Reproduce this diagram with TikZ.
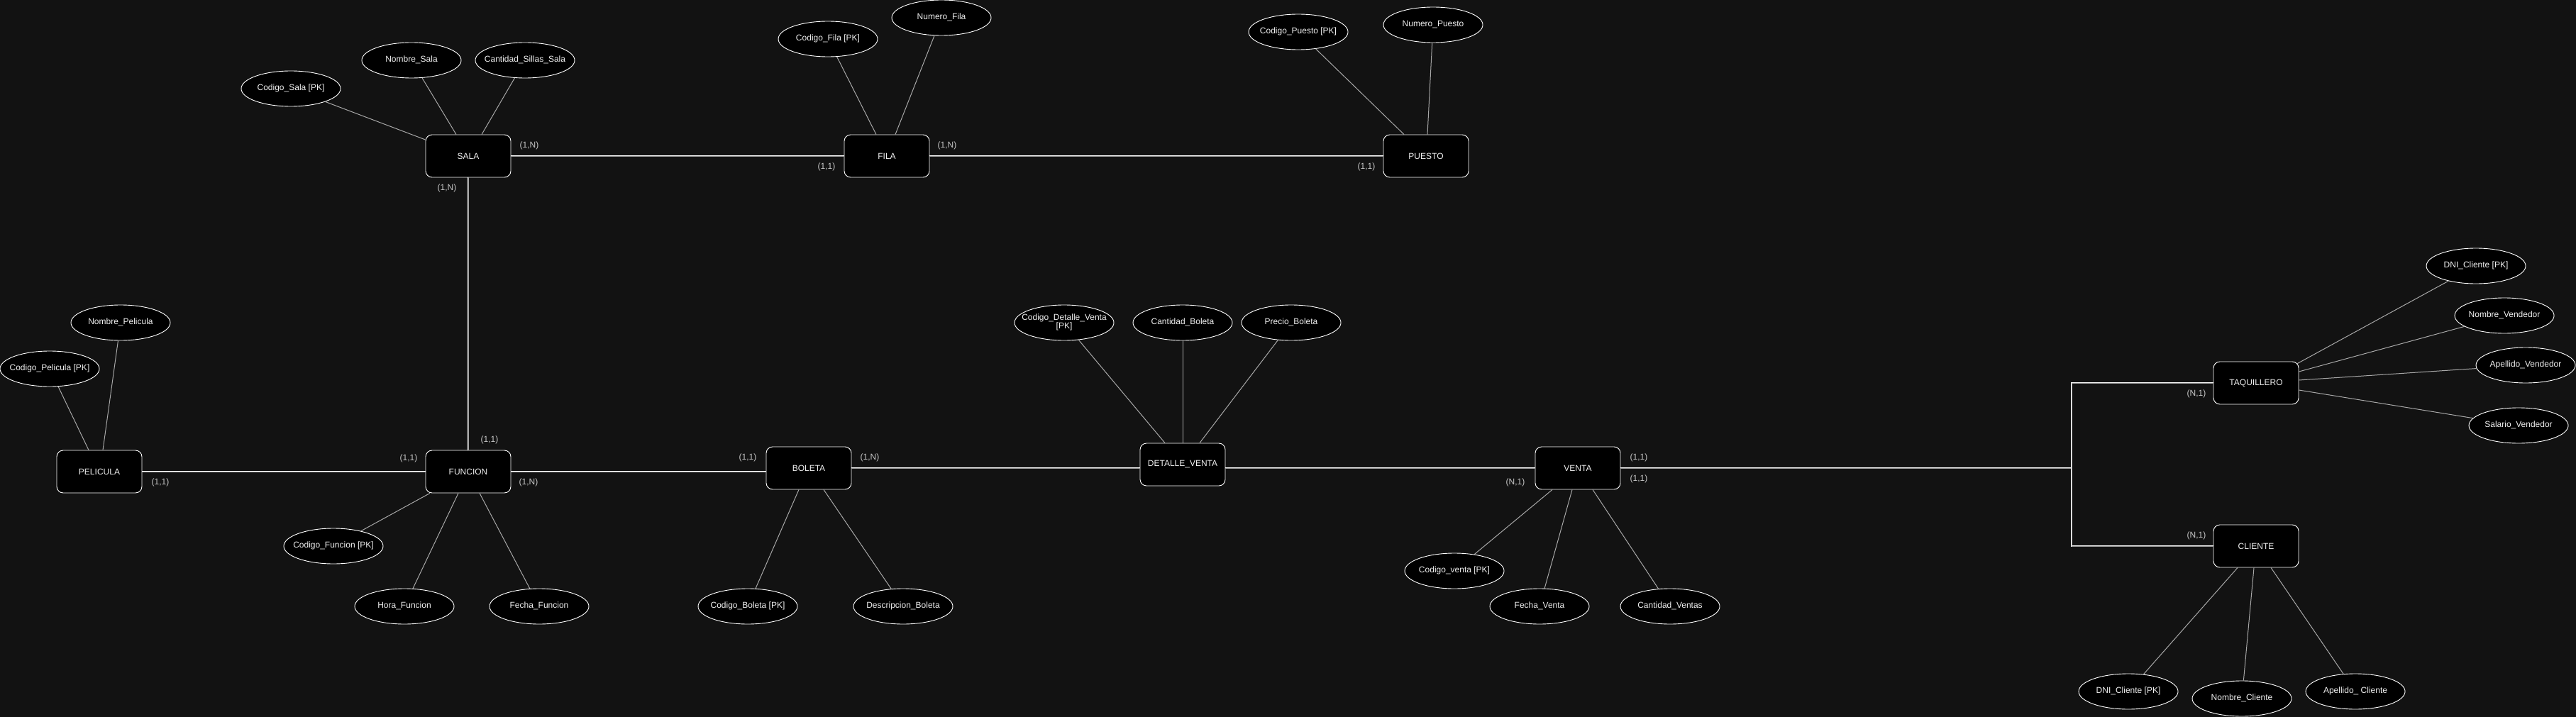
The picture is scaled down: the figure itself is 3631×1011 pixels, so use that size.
\documentclass[tikz,border=0pt]{standalone}
\usepackage{fontspec}
\setmainfont{Liberation Sans}
\usetikzlibrary{calc,shapes.geometric}
\definecolor{bgc}{HTML}{121212}
\definecolor{txt}{HTML}{F0F0F0}
\definecolor{lbl}{HTML}{C8C8C8}
\definecolor{attrline}{HTML}{A8A8A8}
\newcommand{\fixw}[1]{\makebox[0pt][c]{\begin{tabular}{@{}c@{}}#1\end{tabular}}}
\tikzset{
  entity/.style={draw=white, fill=black, rounded corners=9pt, minimum width=120pt, minimum height=60pt, inner sep=0pt, text=txt, font=\fontsize{12}{14}\selectfont, line width=0.9pt},
  attr/.style={draw=white, fill=black, ellipse, minimum width=140pt, minimum height=50pt, inner sep=0pt, text=txt, font=\fontsize{12}{14}\selectfont, line width=0.9pt},
  card/.style={text=lbl, font=\fontsize{12}{14}\selectfont, inner sep=0pt},
  rel/.style={draw=white, double=gray!75!white, double distance=0.5pt, line width=0.9pt},
  aline/.style={draw=attrline, line width=1pt}
}
\begin{document}
\begin{tikzpicture}[x=1pt,y=-1pt]
\fill[bgc] (0,0) rectangle (3631,1011);
\useasboundingbox (0,0) rectangle (3631,1011);

% entities
\node[entity] (sala) at (660,220) {SALA};
\node[entity] (fila) at (1250,220) {FILA};
\node[entity] (puesto) at (2010,220) {PUESTO};
\node[entity] (pelicula) at (140,665) {PELICULA};
\node[entity] (funcion) at (660,665) {FUNCION};
\node[entity] (boleta) at (1140,660) {BOLETA};
\node[entity] (detalle) at (1667,655) {DETALLE\_VENTA};
\node[entity] (venta) at (2224,660) {VENTA};
\node[entity] (taq) at (3180,540) {TAQUILLERO};
\node[entity] (cli) at (3180,770) {CLIENTE};

% attributes
\node[attr] (csala) at (410,125) {\fixw{Codigo\_Sala [PK]}};
\node[attr] (nsala) at (580,85) {\fixw{Nombre\_Sala}};
\node[attr] (cssala) at (740,85) {\fixw{Cantidad\_Sillas\_Sala}};
\node[attr] (cfila) at (1167,55) {\fixw{Codigo\_Fila [PK]}};
\node[attr] (nfila) at (1327,25) {\fixw{Numero\_Fila}};
\node[attr] (cpuesto) at (1830,45) {\fixw{Codigo\_Puesto [PK]}};
\node[attr] (npuesto) at (2020,35) {\fixw{Numero\_Puesto}};
\node[attr] (npel) at (170,455) {\fixw{Nombre\_Pelicula}};
\node[attr] (cpel) at (70,520) {\fixw{Codigo\_Pelicula [PK]}};
\node[attr] (cfun) at (470,770) {\fixw{Codigo\_Funcion [PK]}};
\node[attr] (hfun) at (570,855) {\fixw{Hora\_Funcion}};
\node[attr] (ffun) at (760,855) {\fixw{Fecha\_Funcion}};
\node[attr] (cbol) at (1054,855) {\fixw{Codigo\_Boleta [PK]}};
\node[attr] (dbol) at (1273,855) {\fixw{Descripcion\_Boleta}};
\node[attr] (cdv) at (1500,455) {\fixw{Codigo\_Detalle\_Venta\\[-2pt][PK]}};
\node[attr] (cantb) at (1667,455) {\fixw{Cantidad\_Boleta}};
\node[attr] (pbol) at (1820,455) {\fixw{Precio\_Boleta}};
\node[attr] (cven) at (2050,805) {\fixw{Codigo\_venta [PK]}};
\node[attr] (fven) at (2170,855) {\fixw{Fecha\_Venta}};
\node[attr] (cantv) at (2354,855) {\fixw{Cantidad\_Ventas}};
\node[attr] (dnit) at (3490,375) {\fixw{DNI\_Cliente [PK]}};
\node[attr] (nvend) at (3530,445) {\fixw{Nombre\_Vendedor}};
\node[attr] (avend) at (3560,515) {\fixw{Apellido\_Vendedor}};
\node[attr] (svend) at (3550,600) {\fixw{Salario\_Vendedor}};
\node[attr] (dnic) at (3000,975) {\fixw{DNI\_Cliente [PK]}};
\node[attr] (ncli) at (3160,985) {\fixw{Nombre\_Cliente}};
\node[attr] (acli) at (3320,975) {\fixw{Apellido\_ Cliente}};

% attribute lines
\draw[aline] (csala) -- ($(sala.west)+(0,-23)$);
\draw[aline] (nsala) -- ($(sala.north)+(-17,0)$);
\draw[aline] (cssala) -- ($(sala.north)+(19,0)$);
\draw[aline] (cfila) -- ($(fila.north)+(-15,0)$);
\draw[aline] (nfila) -- ($(fila.north)+(12,0)$);
\draw[aline] (cpuesto) -- ($(puesto.north)+(-31,0)$);
\draw[aline] (npuesto) -- ($(puesto.north)+(2,0)$);
\draw[aline] (cpel) -- ($(pelicula.north)+(-15,0)$);
\draw[aline] (npel) -- ($(pelicula.north)+(5,0)$);
\draw[aline] (cfun) -- ($(funcion.south)+(-54,0)$);
\draw[aline] (hfun) -- ($(funcion.south)+(-14,0)$);
\draw[aline] (ffun) -- ($(funcion.south)+(16,0)$);
\draw[aline] (cbol) -- ($(boleta.south)+(-14,0)$);
\draw[aline] (dbol) -- ($(boleta.south)+(21,0)$);
\draw[aline] (cdv) -- ($(detalle.north)+(-25,0)$);
\draw[aline] (cantb) -- (detalle.north);
\draw[aline] (pbol) -- ($(detalle.north)+(24,0)$);
\draw[aline] (cven) -- ($(venta.south)+(-36,0)$);
\draw[aline] (fven) -- ($(venta.south)+(-8,0)$);
\draw[aline] (cantv) -- ($(venta.south)+(21,0)$);
\draw[aline] (dnit) -- ($(taq.east)+(-3,-27)$);
\draw[aline] (nvend) -- ($(taq.east)+(0,-16)$);
\draw[aline] (avend) -- ($(taq.east)+(0,-4)$);
\draw[aline] (svend) -- ($(taq.east)+(0,10)$);
\draw[aline] (dnic) -- ($(cli.south)+(-26,0)$);
\draw[aline] (ncli) -- ($(cli.south)+(-3,0)$);
\draw[aline] (acli) -- ($(cli.south)+(21,0)$);

% relationship lines
\coordinate (j) at (2920,660);
\draw[rel] (sala) -- (fila);
\draw[rel] (fila) -- (puesto);
\draw[rel] (sala) -- (funcion);
\draw[rel] (pelicula) -- (funcion);
\draw[rel] (funcion.east) -- (funcion.east -| boleta.west);
\draw[rel] (boleta.east) -- (boleta.east -| detalle.west);
\draw[rel] (venta.west) -- (venta.west -| detalle.east);
\draw[rel] (venta.east) -- (j);
\draw[rel] (j) |- (taq.west);
\draw[rel] (j) |- (cli.west);

% cardinalities
\node[card] (k1) at (746,205) {(1,N)};
\node[card] (k2) at (630,265) {(1,N)};
\node[card] (k3) at (1165,235) {(1,1)};
\node[card] (k4) at (1335,205) {(1,N)};
\node[card] (k5) at (1926,235) {(1,1)};
\node[card] (k6) at (690,620) {(1,1)};
\node[card] (k7) at (576,646) {(1,1)};
\node[card] (k8) at (226,680) {(1,1)};
\node[card] (k9) at (745,680) {(1,N)};
\node[card] (k10) at (1054,645) {(1,1)};
\node[card] (k11) at (1226,645) {(1,N)};
\node[card] (k12) at (2310,645) {(1,1)};
\node[card] (k13) at (2310,675) {(1,1)};
\node[card] (k14) at (2136,680) {(N,1)};
\node[card] (k15) at (3096,555) {(N,1)};
\node[card] (k16) at (3096,755) {(N,1)};
\end{tikzpicture}
\end{document}
